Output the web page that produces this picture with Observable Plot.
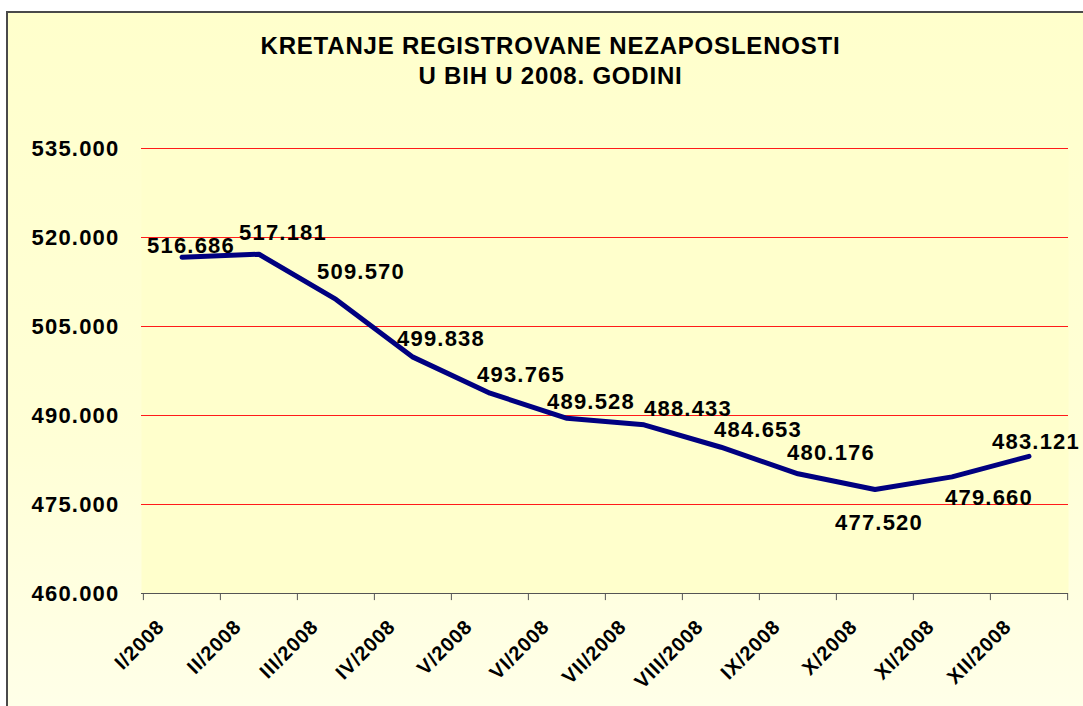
<!DOCTYPE html>
<html>
<head>
<meta charset="utf-8">
<script src="https://cdn.jsdelivr.net/npm/d3@7"></script>
<script src="https://cdn.jsdelivr.net/npm/@observablehq/plot@0.6"></script>
<style>
  html, body { margin: 0; padding: 0; background: #ffffff; width: 1083px; height: 706px; overflow: hidden; }
  #frame {
    position: absolute; left: 6px; top: 11px; width: 1100px; height: 720px;
    border-top: 2px solid #4a4a4a; border-left: 2px solid #4a4a4a;
    background: linear-gradient(to bottom, #FFFFCC 0%, #FFFFD6 60%, #FFFFEA 100%);
  }
  #title {
    position: absolute; left: 9px; top: 31px; width: 1083px; text-align: center;
    font-family: Arial, "Liberation Sans", sans-serif; font-weight: 700; font-size: 24px;
    letter-spacing: 0.8px; line-height: 30px; color: #000;
  }
  #chart { position: absolute; left: 0; top: 0; }
  #chart svg text { letter-spacing: 1.2px; }
  #chart svg g.xlab text { letter-spacing: 0.8px; }
</style>
</head>
<body>
<div id="frame"></div>
<div id="title">KRETANJE REGISTROVANE NEZAPOSLENOSTI<br>U BIH U 2008. GODINI</div>
<div id="chart"></div>
<script>
const months = ["I/2008","II/2008","III/2008","IV/2008","V/2008","VI/2008","VII/2008","VIII/2008","IX/2008","X/2008","XI/2008","XII/2008"];
const unemployed = [516686, 517181, 509570, 499838, 493765, 489528, 488433, 484653, 480176, 477520, 479660, 483121];
const yTicks = [460000, 475000, 490000, 505000, 520000, 535000];
const gridValues = [475000, 490000, 505000, 520000, 535000];

const data = months.map((m, i) => ({month: m, value: unemployed[i]}));
const fmt = d3.formatLocale({decimal: ",", thousands: ".", grouping: [3], currency: ["", ""]}).format(",");

// label placement (pixel offsets relative to each point)
const labelOffset = {
  "I/2008": [9, -11], "II/2008": [24, -21], "III/2008": [25, -27], "IV/2008": [28, -18],
  "V/2008": [31, -18], "VI/2008": [24, -16], "VII/2008": [44, -16], "VIII/2008": [37, -17],
  "IX/2008": [33, -21], "X/2008": [4, 33], "XI/2008": [37, 21], "XII/2008": [7, -14]
};

const font = "Arial, 'Liberation Sans', sans-serif";
const bw = (1068 - 141) / months.length;

const labelMarks = data.map(d => Plot.text([d], {
  x: "month", y: "value", text: r => fmt(r.value),
  dx: labelOffset[d.month][0], dy: labelOffset[d.month][1],
  fontSize: 22, fontWeight: 700, fill: "#000", lineAnchor: "middle", textAnchor: "middle"
}));

const chart = Plot.plot({
  width: 1083, height: 706,
  marginLeft: 141, marginRight: 15, marginTop: 148, marginBottom: 113,
  style: {background: "transparent", fontFamily: font, overflow: "visible"},
  x: {type: "band", domain: months, padding: 0, axis: null},
  y: {domain: [460000, 535000], axis: null},
  marks: [
    Plot.frame({fill: "#FFFFCC", stroke: null}),
    Plot.ruleY(gridValues, {stroke: "#FF1a1a", strokeWidth: 1}),
    Plot.ruleY([460000], {stroke: "#555", strokeWidth: 1.2}),
    Plot.ruleX(months, {x: d => d, y1: 460000, y2: 458800, stroke: "#555", dx: -bw / 2, clip: false}),
    Plot.ruleX([months[months.length - 1]], {x: d => d, y1: 460000, y2: 458800, stroke: "#555", dx: bw / 2, clip: false}),
    Plot.text(yTicks, {
      y: d => d, frameAnchor: "left", text: d => fmt(d), textAnchor: "end", dx: -22,
      fontSize: 22, fontWeight: 700, fill: "#000", lineAnchor: "middle"
    }),
    Plot.text(months, {
      x: d => d, frameAnchor: "bottom", text: d => d, rotate: -45, textAnchor: "end",
      lineAnchor: "middle", dx: -21, dy: 30, fontSize: 20, fontWeight: 700, fill: "#000",
      className: "xlab"
    }),
    Plot.line(data, {x: "month", y: "value", stroke: "#000080", strokeWidth: 5, strokeLinejoin: "round", strokeLinecap: "round"}),
    ...labelMarks
  ]
});
document.getElementById("chart").appendChild(chart);
</script>
</body>
</html>
